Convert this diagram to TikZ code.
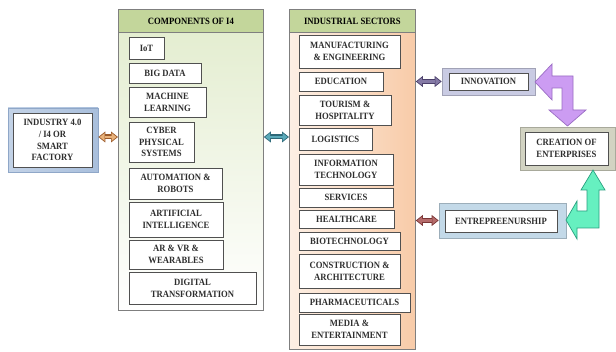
\documentclass[tikz,border=0pt]{standalone}
\usepackage{fontspec}
\setmainfont[FakeStretch=0.9]{Liberation Serif}
\usetikzlibrary{arrows.meta}
\definecolor{txt}{HTML}{2E2E2E}
\definecolor{boxline}{HTML}{505050}
\definecolor{panelline}{HTML}{7F7F7F}
\definecolor{hdrgreen}{HTML}{C3D69B}
\definecolor{bodygreen}{HTML}{E2ECCD}
\definecolor{peach}{HTML}{F8CBA8}
\definecolor{peachlight}{HTML}{FDEFE4}
\definecolor{orD}{HTML}{9B5A2A}\definecolor{orL}{HTML}{E9B27A}
\definecolor{teD}{HTML}{2E6878}\definecolor{teL}{HTML}{5BAABA}
\definecolor{puD}{HTML}{4A3F6A}\definecolor{puL}{HTML}{857AA6}
\definecolor{brD}{HTML}{7A3535}\definecolor{brL}{HTML}{B56B6B}
\definecolor{indblue}{HTML}{A9BFDC}\definecolor{indblueD}{HTML}{8FA7C8}
\definecolor{innovfill}{HTML}{C9CBE3}
\definecolor{creafill}{HTML}{D2D3C2}
\definecolor{entrefill}{HTML}{C3D9E8}
\definecolor{violetL}{HTML}{CC9CF2}\definecolor{violetD}{HTML}{9A6CC4}
\definecolor{aquaL}{HTML}{66F0C0}\definecolor{aquaD}{HTML}{2AA080}
\tikzset{
  ibox/.style={draw=boxline, fill=white, line width=0.8pt, align=center, inner sep=0pt, text=txt},
  obox/.style={draw=#1, line width=0.6pt, inner sep=0pt},
  panel/.style={draw=panelline, line width=0.8pt, inner sep=0pt, anchor=north west},
  header/.style={draw=panelline, fill=hdrgreen, line width=0.8pt, inner sep=0pt, anchor=north west, text=black},
  arrout/.style={line width=5pt, draw=#1, {Triangle[length=7pt,width=11pt,line width=0pt]}-{Triangle[length=7pt,width=11pt,line width=0pt]}},
  arrin/.style={line width=2.6pt, draw=#1, shorten <=1.4pt, shorten >=1.4pt, {Triangle[length=5pt,width=8pt,line width=0pt]}-{Triangle[length=5pt,width=8pt,line width=0pt]}},
}
\newcommand\ibx[6]{\node[ibox, minimum width=#4pt, minimum height=#5pt] (#1) at (#2,#3) {#6};}
\begin{document}
\begin{tikzpicture}[x=1pt,y=-1pt, font=\fontsize{9.6}{11.8}\selectfont\bfseries]
\useasboundingbox (0,0) rectangle (616,352);
\fill[white] (0,0) rectangle (616,352);

% left box
\node[obox=indblueD, left color=indblue!70, right color=indblue, minimum width=90pt, minimum height=64pt] (indout) at (53,140) {};
\ibx{ind}{52.5}{140}{79}{54}{INDUSTRY 4.0\\/ I4 OR\\SMART\\FACTORY}

% components panel
\node[panel, top color=bodygreen, bottom color=white, minimum width=145pt, minimum height=301pt] (comp) at (118,9) {};
\node[header, minimum width=145pt, minimum height=23pt] (comphead) at (118,9) {COMPONENTS OF I4};
\ibx{iot}{146.5}{48}{35}{22}{IoT}
\ibx{big}{165}{73}{72}{20}{BIG DATA}
\ibx{ml}{167.5}{102}{77}{30}{MACHINE\\LEARNING}
\ibx{cps}{161.5}{142}{65}{40}{CYBER\\PHYSICAL\\SYSTEMS}
\ibx{auto}{175.5}{183.5}{93}{31}{AUTOMATION \&\\ROBOTS}
\ibx{ai}{176}{219.5}{94}{35}{ARTIFICIAL\\INTELLIGENCE}
\ibx{ar}{176}{254.5}{94}{29}{AR \& VR \&\\WEARABLES}
\ibx{dt}{192.5}{288}{127}{32}{DIGITAL\\TRANSFORMATION}

% sectors panel
\node[panel, left color=peachlight, right color=peach, minimum width=126pt, minimum height=340pt] (sect) at (289,9) {};
\node[header, minimum width=126pt, minimum height=23pt] (secthead) at (289,9) {INDUSTRIAL SECTORS};
\ibx{man}{349.5}{51.5}{101}{33}{MANUFACTURING\\\& ENGINEERING}
\ibx{edu}{341}{81.5}{84}{19}{EDUCATION}
\ibx{tour}{345}{110}{92}{30}{TOURISM \&\\HOSPITALITY}
\ibx{log}{335.5}{139}{73}{22}{LOGISTICS}
\ibx{it}{346}{169.5}{94}{31}{INFORMATION\\TECHNOLOGY}
\ibx{serv}{346}{197.5}{94}{19}{SERVICES}
\ibx{health}{346.5}{219}{95}{18}{HEALTHCARE}
\ibx{bio}{349.5}{241}{101}{18}{BIOTECHNOLOGY}
\ibx{cons}{349.5}{271}{101}{34}{CONSTRUCTION \&\\ARCHITECTURE}
\ibx{pharma}{354.5}{302.5}{111}{19}{PHARMACEUTICALS}
\ibx{media}{349.5}{329.5}{101}{31}{MEDIA \&\\ENTERTAINMENT}

% right boxes
\node[obox=innovfill!80!black, fill=innovfill, minimum width=93pt, minimum height=27pt] (innovout) at (488.5,81.5) {};
\ibx{innov}{488.5}{81.5}{79}{17}{INNOVATION}
\node[obox=creafill!80!black, fill=creafill, minimum width=95pt, minimum height=43pt] (creaout) at (567.5,148.5) {};
\ibx{crea}{566.5}{148.5}{83}{33}{CREATION OF\\ENTERPRISES}
\node[obox=entrefill!80!black, fill=entrefill, minimum width=127pt, minimum height=35pt] (entreout) at (502.5,220.5) {};
\ibx{entre}{501}{221}{112}{22}{ENTREPREENURSHIP}

% double arrows
\draw[arrout=orD] (indout.east |- 0,137) -- (comp.west |- 0,137);
\draw[arrin=orL] (indout.east |- 0,137) -- (comp.west |- 0,137);
\draw[arrout=teD] (comp.east |- 0,137) -- (sect.west |- 0,137);
\draw[arrin=teL] (comp.east |- 0,137) -- (sect.west |- 0,137);
\draw[arrout=puD] (sect.east |- innovout.west) -- (innovout.west);
\draw[arrin=puL] (sect.east |- innovout.west) -- (innovout.west);
\draw[arrout=brD] (sect.east |- entreout.west) -- (entreout.west);
\draw[arrin=brL] (sect.east |- entreout.west) -- (entreout.west);

% bent arrows
\draw[fill=violetL, draw=violetD, line width=0.7pt, line join=miter]
  (535,82) -- (552,64) -- (552,76) -- (573,76) -- (573,110) -- (586,110) -- (567.5,126)
  -- (549,110) -- (562,110) -- (562,88) -- (552,88) -- (552,100) -- cycle;
\draw[fill=aquaL, draw=aquaD, line width=0.7pt, line join=miter]
  (566,220) -- (577,201) -- (577,211) -- (587,211) -- (587,190) -- (581,190) -- (593,170)
  -- (605,190) -- (599,190) -- (599,228) -- (577,228) -- (577,239) -- cycle;
\end{tikzpicture}
\end{document}
